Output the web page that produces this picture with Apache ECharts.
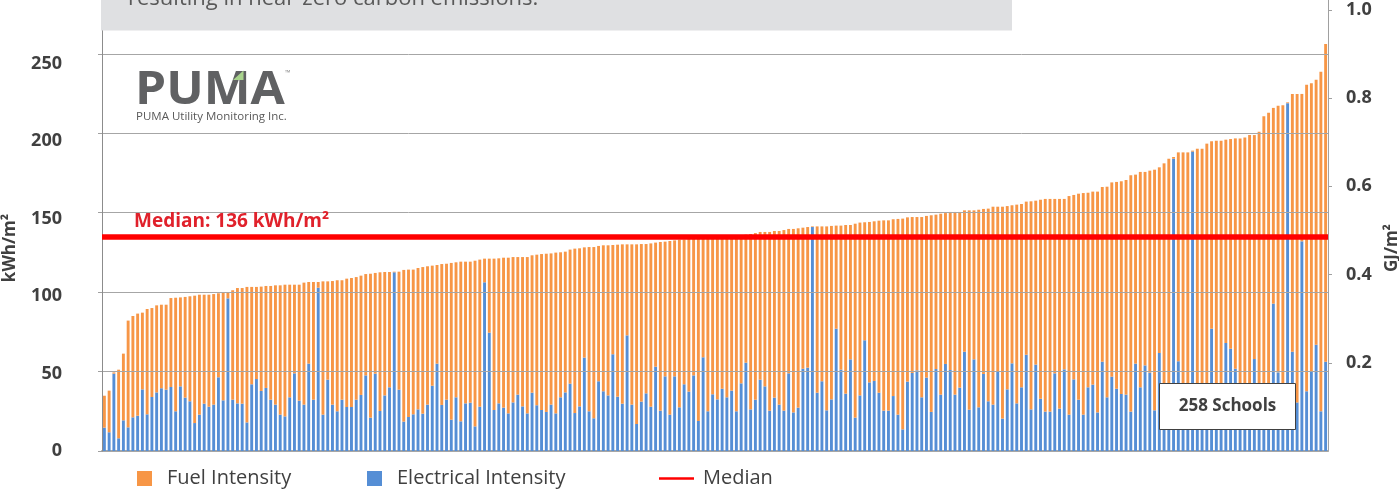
<!DOCTYPE html>
<html>
<head>
<meta charset="utf-8">
<script src="https://cdn.jsdelivr.net/npm/echarts/dist/echarts.min.js"></script>
<style>
html, body { margin: 0; padding: 0; background: #fff; }
#main { width: 1399px; height: 491px; }
</style>
</head>
<body>
<div id="main"></div>
<script>
// total energy use intensity per school (kWh/m2), sorted low to high
var totalIntensity = [
  34.8, 38.0, 49.5, 51.2, 61.3, 82.1, 85.0, 86.5, 87.1, 89.4, 90.0, 91.7, 92.1, 92.1, 96.3, 96.5, 96.7, 97.0, 97.4, 97.8,
  98.4, 98.4, 98.4, 98.8, 99.3, 99.7, 100.1, 101.2, 102.6, 102.6, 103.3, 103.3, 103.3, 103.5, 103.9, 103.9, 104.3,
  104.3, 104.7, 104.7, 104.7, 104.7, 106.0, 106.4, 106.4, 106.4, 106.8, 106.8, 107.0, 107.5, 107.5, 108.5, 108.9, 109.5,
  110.4, 111.4, 111.6, 112.1, 112.5, 112.7, 112.7, 112.9, 112.9, 114.0, 114.2, 114.2, 115.2, 115.8, 116.3, 116.7, 117.1,
  117.7, 117.9, 118.4,
  118.8, 119.2, 119.2, 119.2, 119.8, 120.5, 121.1, 121.1, 121.1, 121.3, 121.7, 121.7, 122.1, 122.1, 122.1, 122.1, 123.2,
  123.6, 124.0, 124.2, 124.4, 124.9, 125.1, 125.5, 126.8, 127.4, 127.6, 128.2, 128.4, 128.4, 129.1, 129.5, 129.5, 129.7,
  129.9, 130.1, 130.1,
  130.1, 130.1, 130.3, 130.3, 130.7, 131.2, 131.6, 131.8, 132.2, 132.6, 133.0, 133.1, 133.4, 133.5, 133.9, 134.0, 134.2,
  134.5, 134.8, 134.9, 135.1, 135.4, 135.5, 135.9, 136.2, 136.6, 137.2, 137.9, 137.9, 137.9, 138.5, 138.5, 139.1, 139.8,
  139.8, 140.2, 140.6,
  141.0, 141.4, 141.4, 141.4, 141.4, 141.7, 141.9, 141.9, 142.3, 142.3, 143.1, 143.8, 144.0, 144.2, 144.6, 145.0, 145.2,
  145.2, 145.9, 146.1, 146.3, 147.1, 147.3, 147.3, 147.3, 148.0, 148.4, 148.8, 149.4, 149.8, 150.5, 150.5, 150.5, 151.5,
  151.5, 151.5, 151.9,
  152.4, 152.6, 153.8, 153.8, 153.8, 154.2, 154.7, 155.1, 155.5, 157.0, 157.2, 157.6, 158.2, 158.7, 158.7, 158.7, 158.7,
  158.7, 160.5, 161.2, 162.0, 162.4, 162.6, 163.3, 163.3, 166.2, 166.4, 169.1, 169.4, 169.8, 170.6, 173.6, 174.0, 175.7,
  175.7, 176.5,
  177.1, 178.6, 181.1, 184.0, 185.1, 188.0, 188.0, 188.0, 189.1, 190.3, 190.3, 193.5, 195.0, 195.4, 195.4, 196.0, 196.4,
  196.8, 196.8, 197.3, 198.9, 198.9, 201.0, 210.7, 213.0, 216.0, 217.4, 217.6, 219.5, 224.8, 224.8, 224.8, 230.6, 231.5,
  233.8, 238.8, 256.2
];

// electrical part of it (kWh/m2), same school order
var electricalIntensity = [
  14.7, 11.8, 48.7, 8.0, 19.3, 14.9, 21.2, 22.2, 38.8, 23.1, 34.0, 36.9, 39.5, 38.6, 40.3, 25.0, 40.7, 33.6, 31.3, 17.6,
  22.9, 29.8, 27.9, 29.2, 46.4, 31.9, 96.1, 32.3, 30.0, 29.8, 18.0, 42.0, 45.3, 37.8, 39.7, 32.3, 29.2,
  22.9, 21.8, 33.8, 48.9, 31.7, 29.2, 55.0, 32.3, 102.8, 22.9, 44.9, 29.2, 25.0, 32.3, 27.7, 27.7, 32.3, 35.3, 47.6,
  21.0, 48.7, 25.2, 35.0, 40.1, 112.5, 38.6, 18.5, 21.4, 23.1, 26.2, 23.5, 29.2, 41.1, 55.0, 29.0, 32.3, 19.7,
  33.8, 18.7, 30.0, 30.4, 15.5, 27.9, 106.2, 74.5, 25.8, 30.0, 27.3, 23.7, 30.6, 35.5, 28.1, 23.7, 36.7, 28.8, 25.8,
  24.6, 29.2, 23.7, 33.8, 36.9, 42.4, 23.9, 28.1, 58.8, 25.0, 20.6, 43.9, 37.6, 35.0, 60.9, 34.2, 29.8, 72.8,
  29.2, 17.0, 31.1, 36.3, 27.9, 53.1, 25.4, 47.0, 22.9, 47.0, 27.5, 42.0, 37.4, 47.6, 18.9, 59.0, 25.0, 35.7, 32.5,
  39.2, 33.8, 38.0, 25.0, 42.6, 55.6, 26.2, 32.3, 44.9, 40.7, 25.4, 33.6, 29.2, 25.4, 48.9, 24.3, 27.3, 51.8,
  52.5, 141.0, 36.7, 43.9, 25.6, 32.5, 77.0, 51.2, 36.1, 57.7, 21.0, 35.0, 69.7, 43.2, 44.1, 36.7, 25.4, 25.4, 34.6,
  22.9, 13.6, 43.7, 49.1, 50.8, 33.8, 46.2, 24.6, 51.6, 35.5, 54.8, 51.0, 35.5, 39.9, 62.5, 26.0, 57.7, 27.5,
  48.5, 31.3, 29.2, 49.9, 20.4, 38.8, 55.2, 30.0, 40.1, 60.6, 26.2, 54.4, 32.9, 24.8, 24.8, 48.9, 26.7, 51.4, 22.9,
  45.1, 32.3, 22.9, 40.1, 41.8, 24.3, 56.2, 33.8, 46.8, 39.2, 35.9, 35.5, 24.8, 55.0, 40.1, 53.9, 49.3,
  25.6, 61.7, 30.0, 26.0, 184.0, 56.5, 35.0, 28.0, 188.5, 32.0, 24.0, 38.0, 77.0, 27.0, 33.0, 68.0, 64.4, 51.8, 29.0,
  36.0, 25.0, 57.9, 31.0, 40.0, 28.0, 92.8, 49.5, 34.0, 219.0, 62.5, 30.6, 132.0, 37.6, 50.2, 66.9, 25.0, 56.2
];

var leftTicks = [0, 50, 100, 150, 200, 250];
var rightTicks = [0.2, 0.4, 0.6, 0.8, 1.0];
var medianText = 'Median: 136 kWh/m\u00b2';
var noteText = 'resulting in near-zero carbon emissions.';
var countText = '258 Schools';

var schools = totalIntensity.map(function (v, i) { return 'School ' + (i + 1); });
var fuelIntensity = totalIntensity.map(function (t, i) {
  return +Math.max(0, t - electricalIntensity[i]).toFixed(1);
});
var sorted = totalIntensity.slice().sort(function (a, b) { return a - b; });
var mid = sorted.length / 2;
var median = (sorted[mid - 1] + sorted[mid]) / 2;

var KWH_PER_GJ = 1000 / 3.6;
var plotTop = -2, plotBottom = 451;
var pxPerKwh = 1.5884;
var leftMax = (plotBottom - plotTop) / pxPerKwh;
// the left tick labels in the original sit on a slightly tighter scale than the gridlines
var labelPxPerKwh = 1.55;

var FONT = '"Open Sans", "Noto Sans", sans-serif';
var orange = '#f79646', blue = '#558ed5', red = '#ff0000';
var legendText = { fontFamily: FONT, fontSize: 20, color: '#404040' };

var myChart = echarts.init(document.getElementById('main'));
myChart.setOption({
  animation: false,
  backgroundColor: '#fff',
  textStyle: { fontFamily: FONT },
  grid: { left: 102, right: 71, top: plotTop, bottom: 491 - plotBottom, containLabel: false, outerBoundsMode: 'none' },
  legend: [
    { data: [{ name: 'Fuel Intensity', icon: 'rect' }], left: 137, top: 468.5, padding: 0, itemWidth: 15, itemHeight: 15,
      textStyle: Object.assign({ padding: [0, 0, 0, 10] }, legendText), selectedMode: false },
    { data: [{ name: 'Electrical Intensity', icon: 'rect' }], left: 367, top: 468.5, padding: 0, itemWidth: 15, itemHeight: 15,
      textStyle: Object.assign({ padding: [0, 0, 0, 10] }, legendText), selectedMode: false },
    { data: [{ name: 'Median', icon: 'rect' }], left: 659, top: 468.5, padding: 0, itemWidth: 35, itemHeight: 2.5,
      textStyle: Object.assign({ padding: [0, 0, 0, 4] }, legendText), selectedMode: false }
  ],
  xAxis: {
    type: 'category',
    data: schools,
    boundaryGap: true,
    axisLine: { show: true, lineStyle: { color: '#a6a6a6', width: 2 } },
    axisTick: { show: false },
    axisLabel: { show: false },
    splitLine: { show: false }
  },
  yAxis: [
    {
      type: 'value',
      min: leftTicks[0],
      max: leftMax,
      interval: leftTicks[1] - leftTicks[0],
      z: 3,
      axisLine: { show: true, lineStyle: { color: '#8c8c8c', width: 1 } },
      axisTick: { show: true, length: 4, lineStyle: { color: '#a0a0a0' } },
      axisLabel: { show: false },
      splitLine: { show: true, lineStyle: { color: '#a6a6a6', width: 1 } }
    },
    {
      type: 'value',
      position: 'right',
      min: 0,
      max: leftMax / KWH_PER_GJ,
      interval: rightTicks[1] - rightTicks[0],
      axisLine: { show: true, lineStyle: { color: '#a0a0a0', width: 1 } },
      axisTick: { show: true, length: 4, lineStyle: { color: '#a0a0a0' } },
      axisLabel: {
        margin: 18, showMaxLabel: false, showMinLabel: false, color: '#404040', fontWeight: 'bold', fontSize: 18, fontFamily: FONT,
        formatter: function (v) { return v.toFixed(1); }
      },
      splitLine: { show: false }
    },
    {
      // labels only for the kWh/m2 scale
      type: 'value',
      position: 'left',
      min: leftTicks[0],
      max: (plotBottom - plotTop) / labelPxPerKwh,
      interval: leftTicks[1] - leftTicks[0],
      axisLine: { show: false },
      axisTick: { show: false },
      splitLine: { show: false },
      axisLabel: { margin: 40, showMaxLabel: false, color: '#404040', fontWeight: 'bold', fontSize: 18, fontFamily: FONT }
    }
  ],
  series: [
    {
      name: 'Electrical Intensity',
      type: 'bar',
      stack: 'eui',
      barWidth: 2.9,
      itemStyle: { color: blue },
      data: electricalIntensity
    },
    {
      name: 'Fuel Intensity',
      type: 'bar',
      stack: 'eui',
      barWidth: 2.9,
      itemStyle: { color: orange },
      data: fuelIntensity
    },
    {
      name: 'Median',
      type: 'line',
      z: 10,
      data: [],
      itemStyle: { color: red },
      lineStyle: { color: red, width: 2.5 },
      markLine: {
        silent: true,
        symbol: 'none',
        z: 10,
        lineStyle: { color: red, width: 5.5, type: 'solid' },
        label: {
          show: true,
          position: 'insideStartTop',
          distance: [32, 6],
          formatter: medianText,
          color: '#e0212b',
          fontWeight: 'bold',
          fontSize: 19,
          fontFamily: FONT
        },
        data: [{ yAxis: median }]
      }
    }
  ],
  graphic: [
    // text box overlapping the top of the chart
    { type: 'rect', z: 100, shape: { x: 101, y: 0, width: 911, height: 30.5 }, style: { fill: '#dfe0e2' } },
    { type: 'text', z: 101, x: 128, y: -1, style: { text: noteText, font: '22px ' + FONT, fill: '#595959', verticalAlign: 'middle' } },
    // PUMA logo
    { type: 'text', z: 101, x: 135, y: 91, scaleX: 1.08, style: { text: 'PUMA', font: 'bold 46px ' + FONT, fill: '#606163', verticalAlign: 'middle' } },
    { type: 'polygon', z: 102, shape: { points: [[233, 80], [243.5, 70.5], [243.5, 80]] }, style: { fill: '#a9d48d' } },
    { type: 'text', z: 101, x: 285, y: 73, style: { text: '\u2122', font: '7px ' + FONT, fill: '#8a8a8a', verticalAlign: 'middle' } },
    { type: 'text', z: 101, x: 136, y: 116.5, style: { text: 'PUMA Utility Monitoring Inc.', font: '11.5px ' + FONT, fill: '#595959', verticalAlign: 'middle' } },
    // axis titles
    { type: 'text', z: 101, x: 10, y: 248, rotation: Math.PI / 2, style: { text: 'kWh/m\u00b2', font: 'bold 17px ' + FONT, fill: '#404040', align: 'center', verticalAlign: 'middle' } },
    { type: 'text', z: 101, x: 1392, y: 248, rotation: Math.PI / 2, style: { text: 'GJ/m\u00b2', font: 'bold 17px ' + FONT, fill: '#404040', align: 'center', verticalAlign: 'middle' } },
    // school count box
    { type: 'rect', z: 100, shape: { x: 1159.5, y: 383.5, width: 136, height: 46 }, style: { fill: '#ffffff', stroke: '#404040', lineWidth: 1 } },
    { type: 'text', z: 101, x: 1227.5, y: 406.5, style: { text: countText, font: 'bold 17px ' + FONT, fill: '#404040', align: 'center', verticalAlign: 'middle' } }
  ]
});
</script>
</body>
</html>
